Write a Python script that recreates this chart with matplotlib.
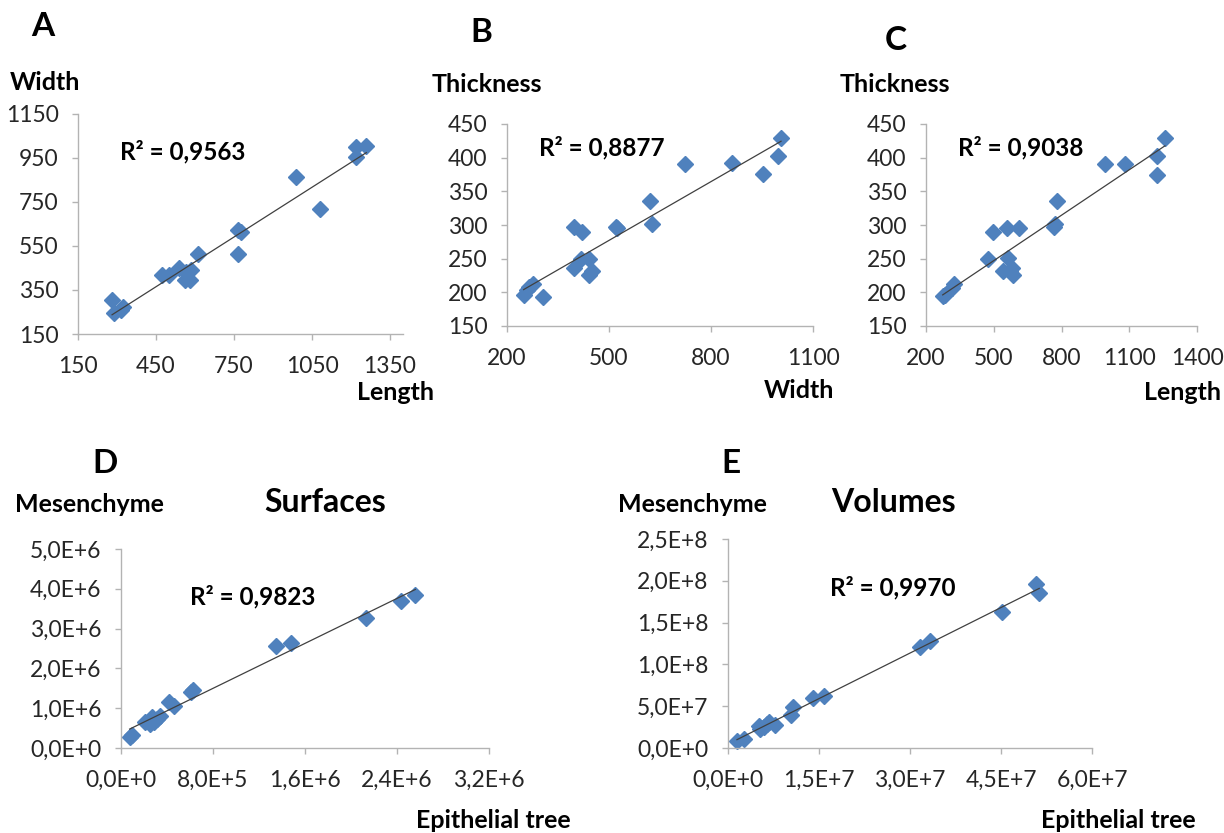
import numpy as np
import matplotlib
matplotlib.use("Agg")
import matplotlib.pyplot as plt

plt.rcParams['font.family'] = ['Lato', 'DejaVu Sans']

# Panel A: width vs length
a_length = [281, 287, 323, 317, 473, 499, 537, 560, 582, 567, 586, 612, 765, 765,
            778, 987, 1079, 1218, 1220, 1259]
a_width = [305, 247, 274, 259, 418, 418, 448, 395, 395, 433, 441, 514, 514, 623,
           615, 862, 718, 953, 998, 1004]

# Panel B: thickness vs width
b_width = [249, 259, 266, 276, 306, 396, 422, 396, 419, 442, 442, 449, 521, 524,
           621, 625, 724, 863, 954, 997, 1006]
b_thick = [196, 203, 208, 212, 193, 297, 289, 236, 249, 250, 226, 232, 297, 295,
           336, 302, 391, 392, 376, 402, 429]

# Panel C: thickness vs length
c_length = [274, 284, 314, 324, 476, 498, 539, 557, 561, 579, 572, 584, 614, 766,
            770, 778, 991, 1081, 1224, 1221, 1258]
c_thick = [194, 196, 207, 212, 249, 289, 231, 296, 251, 236, 231, 226, 295, 297,
           301, 336, 391, 391, 402, 375, 429]

# Panel D: surfaces
d_epi = [75e3, 96e3, 212e3, 249e3, 270e3, 290e3, 313e3, 342e3, 414e3, 458e3,
         609e3, 623e3, 1351e3, 1481e3, 2131e3, 2438e3, 2560e3]
d_mes = [277e3, 319e3, 654e3, 596e3, 780e3, 654e3, 738e3, 797e3, 1158e3, 1057e3,
         1409e3, 1468e3, 2559e3, 2643e3, 3272e3, 3700e3, 3842e3]

# Panel E: volumes
e_epi = [1.48e6, 2.58e6, 5.05e6, 5.32e6, 5.87e6, 6.42e6, 6.69e6, 7.79e6, 1.037e7,
         1.07e7, 1.40e7, 1.59e7, 3.16e7, 3.33e7, 4.51e7, 5.08e7, 5.13e7]
e_mes = [7.97e6, 1.08e7, 2.59e7, 2.27e7, 2.51e7, 2.91e7, 3.07e7, 2.79e7, 3.99e7,
         4.9e7, 5.94e7, 6.18e7, 1.208e8, 1.276e8, 1.631e8, 1.96e8, 1.854e8]

r2_labels = ['0,9563', '0,8877', '0,9038', '0,9823', '0,9970']

ticks_d_x = [0, 8e5, 1.6e6, 2.4e6, 3.2e6]
ticks_d_x_lab = ['0,0E+0', '8,0E+5', '1,6E+6', '2,4E+6', '3,2E+6']
ticks_d_y = [0, 1e6, 2e6, 3e6, 4e6, 5e6]
ticks_d_y_lab = ['0,0E+0', '1,0E+6', '2,0E+6', '3,0E+6', '4,0E+6', '5,0E+6']
ticks_e_x = [0, 1.5e7, 3e7, 4.5e7, 6e7]
ticks_e_x_lab = ['0,0E+0', '1,5E+7', '3,0E+7', '4,5E+7', '6,0E+7']
ticks_e_y = [0, 5e7, 1e8, 1.5e8, 2e8, 2.5e8]
ticks_e_y_lab = ['0,0E+0', '5,0E+7', '1,0E+8', '1,5E+8', '2,0E+8', '2,5E+8']

W, H = 1224, 833
BLUE = '#4f81bd'
fig = plt.figure(figsize=(W / 100, H / 100), dpi=100)


def px_axes(l, t, r, b):
    return fig.add_axes([l / W, 1 - b / H, (r - l) / W, (b - t) / H])


def ftext(x, y, s, **kw):
    fig.text(x / W, 1 - y / H, s, **kw)


def scatter_panel(ax, x, y, xlim, ylim, xticks, yticks, xlab=None, ylab=None):
    x = np.array(x)
    y = np.array(y)
    k, c = np.polyfit(x, y, 1)
    xs = np.array([x.min(), x.max()])
    ax.plot(xs, k * xs + c, color='#404040', lw=0.9, zorder=3)
    ax.plot(x, y, 'D', color=BLUE, ms=8, mec=BLUE, zorder=2, clip_on=False)
    ax.set_xlim(xlim)
    ax.set_ylim(ylim)
    ax.set_xticks(xticks)
    ax.set_yticks(yticks)
    if xlab is not None:
        ax.set_xticklabels(xlab)
    if ylab is not None:
        ax.set_yticklabels(ylab)
    for s in ['top', 'right']:
        ax.spines[s].set_visible(False)
    for s in ['left', 'bottom']:
        ax.spines[s].set_color('#b3b3b3')
        ax.spines[s].set_linewidth(1)
    ax.tick_params(direction='out', length=4, width=1, color='#b3b3b3',
                   labelsize=16.5, labelcolor='#262626')
    ax.tick_params(axis='x', pad=12)
    ax.tick_params(axis='y', pad=10)
    ax.patch.set_alpha(0)


axA = px_axes(78, 114, 403, 334)
scatter_panel(axA, a_length, a_width, (150, 1400), (150, 1150),
              [150, 450, 750, 1050, 1350], [150, 350, 550, 750, 950, 1150])
axB = px_axes(507, 124, 813, 326)
scatter_panel(axB, b_width, b_thick, (200, 1100), (150, 450),
              [200, 500, 800, 1100], [150, 200, 250, 300, 350, 400, 450])
axC = px_axes(926, 124, 1197, 326)
scatter_panel(axC, c_length, c_thick, (200, 1400), (150, 450),
              [200, 500, 800, 1100, 1400], [150, 200, 250, 300, 350, 400, 450])
axD = px_axes(121, 549, 489, 748)
scatter_panel(axD, d_epi, d_mes, (0, 3.2e6), (0, 5e6),
              ticks_d_x, ticks_d_y, ticks_d_x_lab, ticks_d_y_lab)
axE = px_axes(728, 539, 1092, 748)
scatter_panel(axE, e_epi, e_mes, (0, 6e7), (0, 2.5e8),
              ticks_e_x, ticks_e_y, ticks_e_x_lab, ticks_e_y_lab)

bold = dict(fontweight='bold', color='black')

# panel letters
for lx, ly, letter in [(31, 26, 'A'), (470, 32, 'B'), (885, 41, 'C'),
                       (92, 463, 'D'), (721, 463, 'E')]:
    ftext(lx, ly, letter, fontsize=24, ha='left', va='center', **bold)

# R squared annotations
for (rx, ry), val in zip([(120, 152), (539, 148), (958, 148), (190, 597), (830, 588)],
                         r2_labels):
    ftext(rx, ry, 'R² = ' + val, fontsize=17.5, ha='left', va='center', **bold)

# axis names
LS = 18
ftext(10, 83, 'Width', fontsize=LS, ha='left', va='center', **bold)
ftext(434, 393, 'Length', fontsize=LS, ha='right', va='center', **bold)
ftext(432, 84, 'Thickness', fontsize=LS, ha='left', va='center', **bold)
ftext(834, 390, 'Width', fontsize=LS, ha='right', va='center', **bold)
ftext(840, 84, 'Thickness', fontsize=LS, ha='left', va='center', **bold)
ftext(1221, 392, 'Length', fontsize=LS, ha='right', va='center', **bold)
ftext(15, 505, 'Mesenchyme', fontsize=LS, ha='left', va='center', **bold)
ftext(571, 820, 'Epithelial tree', fontsize=LS, ha='right', va='center', **bold)
ftext(618, 505, 'Mesenchyme', fontsize=LS, ha='left', va='center', **bold)
ftext(1196, 820, 'Epithelial tree', fontsize=LS, ha='right', va='center', **bold)

# titles
ftext(325, 503, 'Surfaces', fontsize=23, ha='center', va='center', **bold)
ftext(893, 503, 'Volumes', fontsize=23, ha='center', va='center', **bold)

fig.savefig('out.png', dpi=100, facecolor='white')
